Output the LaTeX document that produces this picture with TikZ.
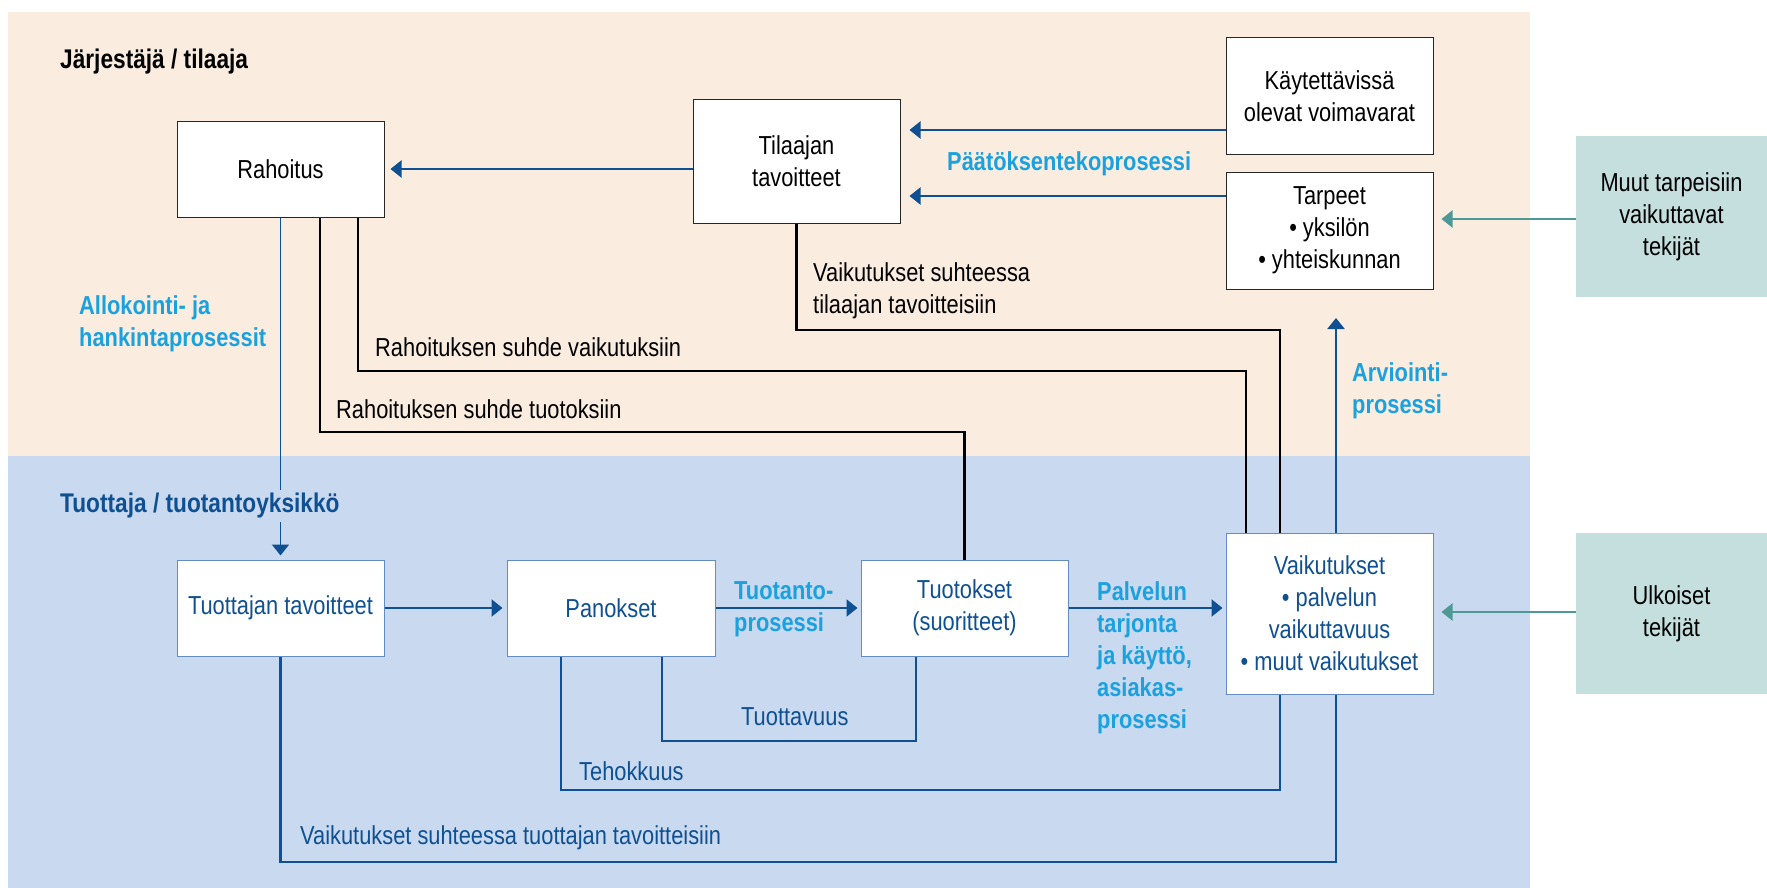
\documentclass[tikz,border=0pt]{standalone}
\usepackage{fontspec}
\setmainfont[FakeStretch=0.84]{Liberation Sans}
\usetikzlibrary{arrows.meta}
\definecolor{beige}{RGB}{250,237,224}
\definecolor{paleblue}{RGB}{201,217,240}
\definecolor{tealbox}{RGB}{197,223,223}
\definecolor{darkblue}{RGB}{14,80,145}
\definecolor{procblue}{RGB}{27,161,222}
\definecolor{tealarrow}{RGB}{78,152,150}
\definecolor{boxline}{RGB}{100,140,195}

\begin{document}
\begin{tikzpicture}[x=1pt,y=-1pt,
    every node/.style={font=\fontsize{26}{32}\selectfont},
    topbox/.style={draw=black!85,line width=1pt,fill=white,minimum width=207pt,align=center,inner sep=0pt},
    lowbox/.style={draw=boxline,line width=1pt,fill=white,text=darkblue,minimum width=207pt,align=center,inner sep=0pt},
    sidebox/.style={fill=tealbox,minimum width=191pt,minimum height=161pt,align=center,inner sep=0pt},
    arr/.style={-{Triangle[length=11pt,width=17pt]},line width=2.4pt,draw=darkblue},
    tarr/.style={arr,draw=tealarrow},
    blk/.style={line width=2.3pt,draw=black},
    blu/.style={line width=2.3pt,draw=darkblue},
    lbl/.style={anchor=west,inner sep=0pt,align=left},
    proc/.style={lbl,text=procblue,font=\fontsize{26}{32}\selectfont\bfseries},
    head/.style={lbl,font=\fontsize{27}{32}\selectfont\bfseries}]
  \useasboundingbox (0,0) rectangle (1767,888);
  \fill[beige] (8,12) rectangle (1530,456);
  \fill[paleblue] (8,456) rectangle (1530,888);

  % boxes
  \node[topbox,minimum height=95pt] (rah) at (280.5,169.5) {Rahoitus};
  \node[topbox,minimum height=123pt] (tilaaja) at (796.5,161.5) {Tilaajan\\tavoitteet};
  \node[topbox,minimum height=117pt] (voimavarat) at (1329.5,96.5) {Käytettävissä\\olevat voimavarat};
  \node[topbox,minimum height=117pt] (tarpeet) at (1329.5,230.5) {Tarpeet\\• yksilön\\• yhteiskunnan};
  \node[sidebox] (muut) at (1671.5,216.5) {Muut tarpeisiin\\vaikuttavat\\tekijät};
  \node[lowbox,minimum height=96pt] (ttav) at (280.5,608) {Tuottajan tavoitteet};
  \node[lowbox,minimum height=96pt,minimum width=208pt] (panokset) at (611,608) {Panokset};
  \node[lowbox,minimum height=96pt] (tuotokset) at (964.5,608) {Tuotokset\\(suoritteet)};
  \node[lowbox,minimum height=161pt] (vaik) at (1329.5,613.5) {Vaikutukset\\• palvelun\\vaikuttavuus\\• muut vaikutukset};
  \node[sidebox] (ulk) at (1671.5,613.5) {Ulkoiset\\tekijät};

  % levels and bends
  \coordinate (lvA) at (0,130);
  \coordinate (lvB) at (0,196);
  \coordinate (lvR) at (0,169);
  \coordinate (lvM) at (0,219);
  \coordinate (lvU) at (0,612);
  \coordinate (arvtip) at (1336,318);
  \coordinate (c1) at (320,432);
  \coordinate (c2a) at (358,371);
  \coordinate (c2) at (1246,371);
  \coordinate (c3) at (1280,330);
  \coordinate (d1) at (662,741);
  \coordinate (d2) at (916,741);
  \coordinate (e1) at (561,790);
  \coordinate (e2) at (1280,790);
  \coordinate (f1) at (1336,862);

  % arrows
  \draw[arr,shorten >=9pt] (voimavarat.west |- lvA) -- (tilaaja.east |- lvA);
  \draw[arr,shorten >=9pt] (tarpeet.west |- lvB) -- (tilaaja.east |- lvB);
  \draw[arr,shorten >=6pt] (tilaaja.west |- lvR) -- (rah.east |- lvR);
  \draw[tarr,shorten >=8pt] (muut.west |- lvM) -- (tarpeet.east |- lvM);
  \draw[tarr,shorten >=8pt] (ulk.west |- lvU) -- (vaik.east |- lvU);
  \draw[arr,line width=1.7pt,shorten >=4pt] (rah.south) -- (ttav.north);
  \draw[arr,shorten >=4pt] (ttav.east) -- (panokset.west);
  \draw[arr,shorten >=3pt] (panokset.east) -- (tuotokset.west);
  \draw[arr,shorten >=3pt] (tuotokset.east) -- (vaik.west |- tuotokset.east);
  \draw[arr] (vaik.north -| arvtip) -- (arvtip);

  % relations
  \draw[blk] (rah.south -| c1) -- (c1) -| (tuotokset.north);
  \draw[blk] (rah.south -| c2a) -- (c2a) -- (c2) -- (vaik.north -| c2);
  \draw[blk] (tilaaja.south) |- (c3) -- (vaik.north -| c3);
  \draw[blu] (panokset.south -| d1) -- (d1) -- (d2) -- (tuotokset.south -| d2);
  \draw[blu] (panokset.south -| e1) -- (e1) -- (e2) -- (vaik.south -| e2);
  \draw[blu] (ttav.south) |- (f1) -- (vaik.south -| f1);

  % labels
  \node[head] (jarj) at (60,62) {Järjestäjä / tilaaja};
  \node[head,text=darkblue,fill=paleblue,inner sep=3pt] (tuottaja) at (57,506) {Tuottaja / tuotantoyksikkö};
  \node[proc] (alloc) at (79,324) {Allokointi- ja\\hankintaprosessit};
  \node[proc] (paatos) at (947,164) {Päätöksentekoprosessi};
  \node[proc] (arv) at (1352,391) {Arviointi-\\prosessi};
  \node[proc] (tuotanto) at (734,609) {Tuotanto-\\prosessi};
  \node[proc] (palvelu) at (1097,658) {Palvelun\\tarjonta\\ja käyttö,\\asiakas-\\prosessi};
  \node[lbl] (vtil) at (813,291) {Vaikutukset suhteessa\\tilaajan tavoitteisiin};
  \node[lbl] (rvaik) at (375,347) {Rahoituksen suhde vaikutuksiin};
  \node[lbl] (rtuot) at (336,409) {Rahoituksen suhde tuotoksiin};
  \node[lbl,text=darkblue] (tuottav) at (741,717) {Tuottavuus};
  \node[lbl,text=darkblue] (teho) at (579,771) {Tehokkuus};
  \node[lbl,text=darkblue] (vtuo) at (300,838) {Vaikutukset suhteessa tuottajan tavoitteisiin};
\end{tikzpicture}
\end{document}
